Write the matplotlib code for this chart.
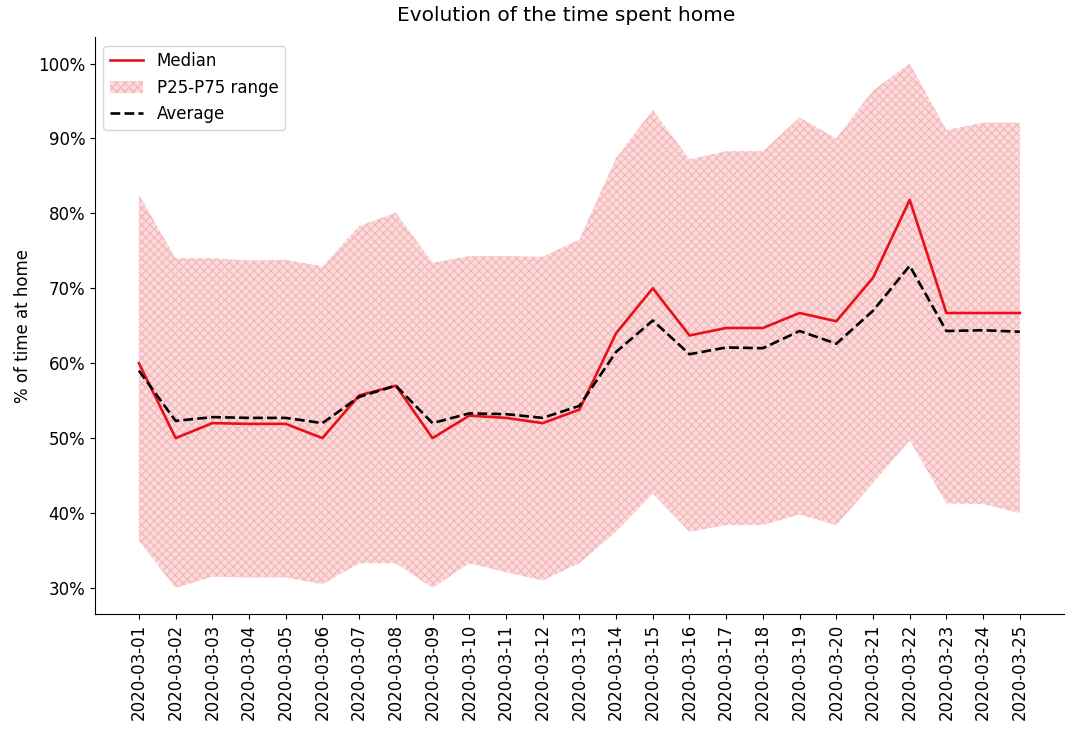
import matplotlib
matplotlib.use("Agg")
import matplotlib.pyplot as plt
from matplotlib.ticker import FuncFormatter

dates = ["2020-03-%02d" % d for d in range(1, 26)]
median = [60, 50, 52, 51.9, 51.9, 50, 55.7, 57, 50, 53, 52.7, 52, 53.8,
          64, 70, 63.7, 64.7, 64.7, 66.7, 65.6, 71.4, 81.8, 66.7, 66.7, 66.7]
average = [59, 52.3, 52.8, 52.7, 52.7, 52, 55.5, 57, 52, 53.3, 53.2, 52.7, 54.3,
           61.5, 65.7, 61.2, 62.1, 62, 64.3, 62.6, 67, 73, 64.3, 64.4, 64.2]
p75 = [82.5, 74, 74, 73.7, 73.8, 72.9, 78.3, 80.1, 73.4, 74.3, 74.3, 74.2, 76.5,
       87.4, 93.8, 87.2, 88.3, 88.3, 92.8, 90, 96.4, 100, 91.1, 92.1, 92.1]
p25 = [36.3, 30, 31.5, 31.4, 31.4, 30.5, 33.3, 33.3, 30, 33.3, 32.1, 31, 33.3,
       37.5, 42.6, 37.5, 38.4, 38.4, 39.8, 38.4, 44, 49.7, 41.3, 41.2, 40]

plt.rcParams['hatch.color'] = '#f5b8bb'
plt.rcParams['hatch.linewidth'] = 1.0

fig = plt.figure(figsize=(10.66, 7.32), dpi=100)
ax = fig.add_axes([0.089, 0.161, 0.909, 0.788])

x = list(range(len(dates)))
ax.plot(x, median, color='#e8101a', lw=1.9, label='Median')
ax.fill_between(x, p25, p75, facecolor='#fbdcdd', edgecolor='#f5b8bb',
                hatch='xxxx', linewidth=0, label='P25-P75 range')
ax.plot(x, average, color='black', lw=1.9, ls='--', label='Average')

ax.set_xticks(x)
ax.set_xticklabels(dates, rotation=90, fontsize=12)
ax.tick_params(axis='y', labelsize=12)
ax.yaxis.set_major_formatter(FuncFormatter(lambda v, p: "%d%%" % round(v)))
ax.set_ylabel('% of time at home', fontsize=12)
ax.set_title('Evolution of the time spent home', fontsize=14.5, pad=12, x=0.486)
for s in ['top', 'right']:
    ax.spines[s].set_visible(False)
ax.legend(loc='upper left', fontsize=12)

fig.savefig('out.png', dpi=100)
